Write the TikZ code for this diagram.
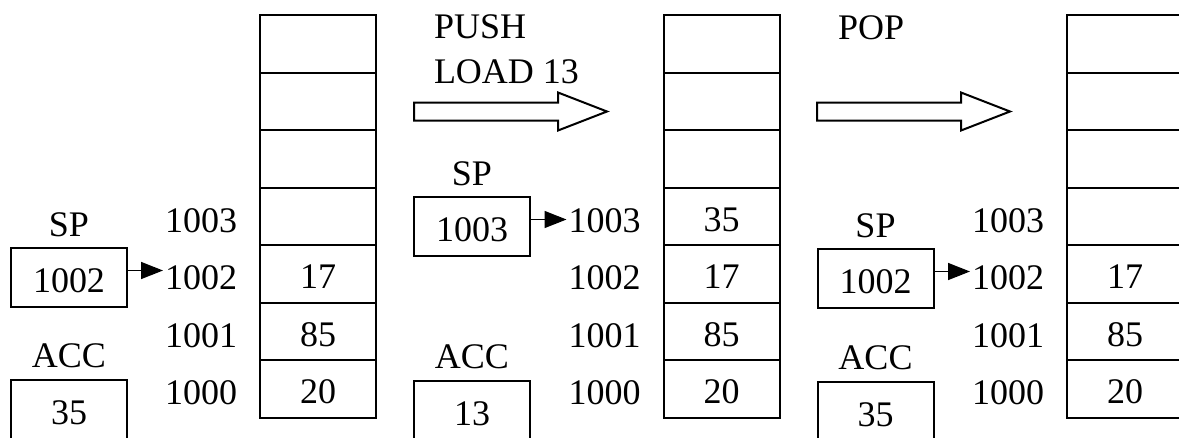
\documentclass[tikz,border=0pt]{standalone}
\usepackage{fontspec}
\setmainfont{Liberation Serif}
\usetikzlibrary{arrows.meta}
\begin{document}
\begin{tikzpicture}[x=1pt,y=-1pt,line width=2pt,
  font=\fontsize{36}{43}\selectfont,
  cell/.style={draw,rectangle,minimum width=116pt,minimum height=57.5pt,
    inner sep=0pt,outer sep=0pt,text height=30pt,text depth=0pt},
  reg/.style={draw,rectangle,minimum width=116pt,minimum height=59pt,
    inner sep=0pt,outer sep=0pt,text height=30pt,text depth=0pt},
  addr/.style={inner sep=0pt,text height=32pt,text depth=0pt,anchor=east},
  caption/.style={inner sep=0pt,anchor=base west},
  ptr/.style={-{Triangle[length=22pt,width=17pt]},shorten >=1pt},
  bigarrow/.pic={\draw (0,-9) -- (144,-9) -- (144,-19) -- (193,0)
    -- (144,19) -- (144,9) -- (0,9) -- cycle;}
]
\useasboundingbox (0,0) rectangle (1179,437);
\clip (0,0) rectangle (1179,437);

% three snapshots of the stack memory, seven cells each
\foreach \k/\v in {1/{},2/{},3/{},4/{},5/17,6/85,7/20}
  \node[cell] (A\k) at (318,{15+57.5*(\k-0.5)}) {\v};
\foreach \k/\v in {1/{},2/{},3/{},4/35,5/17,6/85,7/20}
  \node[cell] (B\k) at (721.5,{15+57.5*(\k-0.5)}) {\v};
\foreach \k/\v in {1/{},2/{},3/{},4/{},5/17,6/85,7/20}
  \node[cell] (C\k) at (1125,{15+57.5*(\k-0.5)}) {\v};

% addresses beside the occupied part of each stack
\foreach \s in {A,B,C}
  \foreach \k/\a in {4/1003,5/1002,6/1001,7/1000}
    \node[addr] (a\s\k) at ([xshift=-22pt]\s\k.west) {\a};

% registers: stack pointer and accumulator
\node[reg] (spA) at (69,277.5) {1002};
\node[reg] (accA) at (69,409.5) {35};
\node[reg] (spB) at (472,226.5) {1003};
\node[reg] (accB) at (472,410.5) {13};
\node[reg] (spC) at (875.5,278.5) {1002};
\node[reg] (accC) at (875.5,411.5) {35};

\foreach \s in {A,B,C} {
  \node (sp\s l) at ([yshift=23pt]sp\s.north) {SP};
  \node (acc\s l) at ([yshift=24pt]acc\s.north) {ACC};
}

% stack pointer targets
\draw[ptr,line width=1.6pt] ([yshift=7pt]spA.east) -- ([yshift=7pt]spA.east -| aA5.west);
\draw[ptr,line width=1.6pt] ([yshift=7pt]spB.east) -- ([yshift=7pt]spB.east -| aB4.west);
\draw[ptr,line width=1.6pt] ([yshift=7pt]spC.east) -- ([yshift=7pt]spC.east -| aC5.west);

% operations between the snapshots
\node[caption] (push) at (433,38) {PUSH};
\node[caption] (load) at (433,83) {LOAD 13};
\pic at (414,111.5) {bigarrow};
\node[caption] (pop) at (837,39) {POP};
\pic at (817,111.5) {bigarrow};
\end{tikzpicture}
\end{document}
